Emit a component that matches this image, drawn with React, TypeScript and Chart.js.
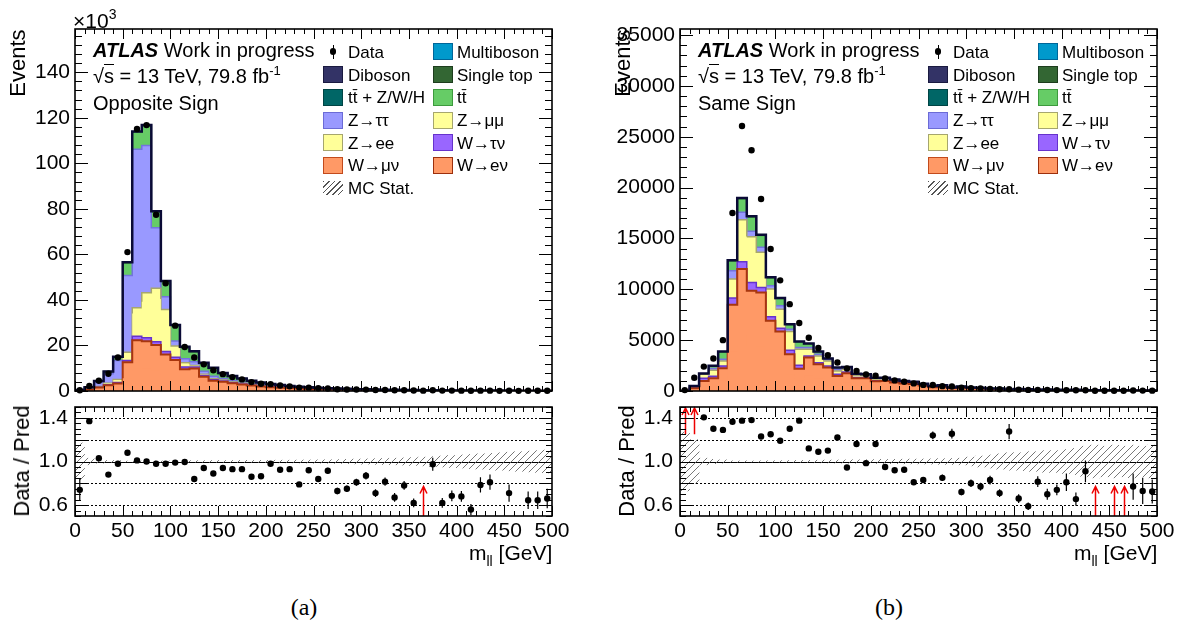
import React, { useEffect, useRef } from 'react';
import { Chart, registerables } from 'chart.js';

Chart.register(...registerables);

const FONT = '"Liberation Sans", Arial, Helvetica, sans-serif';
const SERIF = '"Liberation Serif", "Times New Roman", serif';
Chart.defaults.font.family = FONT;
Chart.defaults.color = '#000';

// ---------- binning / axes ----------
const BIN_LOW = [0,10,20,30,40,50,60,70,80,90,100,110,120,130,140,150,160,170,180,190,200,210,220,230,240,250,260,270,280,290,300,310,320,330,340,350,360,370,380,390,400,410,420,430,440,450,460,470,480,490];
const BIN_CENTER = [5,15,25,35,45,55,65,75,85,95,105,115,125,135,145,155,165,175,185,195,205,215,225,235,245,255,265,275,285,295,305,315,325,335,345,355,365,375,385,395,405,415,425,435,445,455,465,475,485,495];
const X_MIN = 0;
const X_MAX = 500;
const X_TICKS = [0,50,100,150,200,250,300,350,400,450,500];
const OS_Y_TICKS = [0,20,40,60,80,100,120,140];
const SS_Y_TICKS = [0,5000,10000,15000,20000,25000,30000,35000];
const RATIO_TICKS = [0.6,0.8,1.0,1.2,1.4];
const OS_Y_MAX = 159;
const SS_Y_MAX = 35600;

// ---------- Opposite Sign (x10^3 events) ----------
const OS_WENU = [0.07,0.27,0.68,1.1,1.5,5.6,10.0,9.8,9.1,7.2,6.1,4.3,4.5,2.8,2.0,1.85,1.5,1.3,1.08,0.9,0.77,0.65,0.56,0.49,0.41,0.36,0.31,0.27,0.24,0.21,0.18,0.16,0.14,0.13,0.12,0.1,0.095,0.085,0.077,0.072,0.068,0.063,0.056,0.052,0.047,0.045,0.043,0.04,0.038,0.036];
const OS_WMUNU = [0.08,0.33,0.82,1.4,1.8,7.0,12.3,12.0,11.1,8.8,7.5,5.3,5.4,3.5,2.5,2.25,1.9,1.6,1.32,1.1,0.93,0.8,0.69,0.59,0.51,0.44,0.38,0.33,0.29,0.25,0.23,0.2,0.18,0.16,0.14,0.13,0.115,0.105,0.093,0.088,0.082,0.077,0.069,0.063,0.058,0.055,0.052,0.05,0.047,0.044];
const OS_WTAUNU = [0.02,0.05,0.15,0.3,0.4,0.8,1.7,1.6,1.4,1.4,1.2,0.9,0.6,0.5,0.4,0.3,0.25,0.2,0.17,0.14,0.12,0.1,0.08,0.07,0.06,0.04,0.035,0.03,0.027,0.024,0.021,0.019,0.016,0.014,0.012,0.011,0.01,0.009,0.008,0.007,0.007,0.006,0.006,0.005,0.005,0.004,0.004,0.004,0.003,0.003];
const OS_ZEE = [0.02,0.08,0.24,0.48,1.0,2.9,10.0,15.8,18.8,14.7,4.0,1.5,0.55,0.48,0.4,0.32,0.28,0.24,0.2,0.16,0.13,0.11,0.1,0.08,0.065,0.05,0.04,0.036,0.032,0.028,0.024,0.022,0.019,0.016,0.014,0.013,0.011,0.01,0.009,0.008,0.007,0.006,0.006,0.005,0.005,0.005,0.004,0.004,0.003,0.003];
const OS_ZMUMU = [0.01,0.02,0.06,0.12,0.3,0.7,2.6,4.0,4.7,3.7,1.0,0.4,0.15,0.12,0.1,0.08,0.07,0.06,0.05,0.04,0.04,0.03,0.02,0.02,0.015,0.01,0.01,0.009,0.008,0.007,0.006,0.005,0.005,0.004,0.004,0.003,0.003,0.002,0.002,0.002,0.002,0.002,0.001,0.002,0.001,0.001,0.001,0.001,0.001,0.001];
const OS_ZTAUTAU = [0.1,0.6,1.8,4.2,8.4,33.7,69.6,64.6,26.6,5.6,2.2,1.8,1.7,1.3,1.1,0.7,0.55,0.45,0.35,0.28,0.22,0.18,0.15,0.12,0.1,0.08,0.07,0.06,0.05,0.045,0.04,0.035,0.03,0.025,0.022,0.02,0.018,0.015,0.014,0.012,0.011,0.01,0.01,0.009,0.008,0.007,0.007,0.006,0.006,0.005];
const OS_TTBAR = [0.05,0.2,0.55,0.85,1.4,5.5,7.4,8.6,6.9,6.5,6.6,4.8,4.2,3.3,3.3,2.1,1.75,1.4,1.1,0.88,0.72,0.58,0.47,0.41,0.34,0.34,0.29,0.25,0.22,0.19,0.16,0.14,0.13,0.11,0.1,0.09,0.08,0.07,0.06,0.055,0.05,0.045,0.04,0.04,0.035,0.035,0.03,0.03,0.025,0.02];
const OS_TTV = [0.005,0.01,0.02,0.03,0.04,0.06,0.08,0.08,0.08,0.08,0.08,0.07,0.07,0.06,0.06,0.05,0.05,0.045,0.04,0.035,0.03,0.028,0.025,0.022,0.02,0.018,0.016,0.014,0.013,0.012,0.011,0.01,0.009,0.008,0.008,0.007,0.006,0.006,0.005,0.005,0.005,0.004,0.004,0.004,0.003,0.003,0.003,0.003,0.002,0.002];
const OS_STOP = [0.02,0.02,0.04,0.06,0.08,0.12,0.15,0.16,0.16,0.16,0.16,0.15,0.14,0.13,0.13,0.11,0.1,0.09,0.08,0.07,0.06,0.055,0.05,0.045,0.04,0.036,0.032,0.028,0.025,0.022,0.02,0.018,0.016,0.014,0.013,0.012,0.011,0.01,0.009,0.008,0.008,0.007,0.006,0.006,0.005,0.005,0.005,0.004,0.004,0.004];
const OS_DIBOSON = [0.02,0.02,0.04,0.06,0.08,0.12,0.17,0.16,0.16,0.16,0.16,0.18,0.19,0.21,0.21,0.14,0.15,0.12,0.11,0.1,0.08,0.07,0.055,0.055,0.04,0.04,0.035,0.03,0.028,0.025,0.022,0.02,0.018,0.016,0.015,0.014,0.012,0.011,0.01,0.01,0.009,0.008,0.008,0.007,0.007,0.006,0.006,0.006,0.005,0.005];
const OS_MULTIBOSON = [0,0,0.001,0.001,0.002,0.003,0.004,0.004,0.004,0.004,0.003,0.003,0.003,0.003,0.002,0.002,0.002,0.002,0.002,0.002,0.001,0.001,0.001,0.001,0.001,0.001,0.001,0.001,0.001,0.001,0.001,0.001,0.001,0.001,0.001,0.001,0.001,0.001,0.001,0.001,0,0,0,0,0,0,0,0,0,0];
const OS_DATA = [0.3,2.2,4.5,7.6,14.7,61.0,115.1,116.8,77.4,47.3,28.7,19.3,14.7,11.7,9.1,7.4,6.1,5.1,3.9,3.2,3.0,2.4,2.05,1.5,1.47,1.18,1.1,0.77,0.69,0.65,0.61,0.44,0.45,0.33,0.34,0.24,0.15,0.30,0.17,0.18,0.16,0.12,0.16,0.15,0.07,0.11,0.06,0.09,0.085,0.08];
const OS_RATIO = [0.74,1.37,1.03,0.88,0.98,1.08,1.01,1.00,0.98,0.98,0.99,0.995,0.84,0.94,0.89,0.94,0.93,0.93,0.86,0.865,0.98,0.925,0.93,0.79,0.92,0.84,0.915,0.73,0.75,0.81,0.87,0.71,0.815,0.67,0.78,0.62,null,0.975,0.62,0.685,0.68,0.56,0.785,0.81,null,0.71,null,0.645,0.645,0.66];
const OS_RATIO_ERR = [0.1,0.02,0.012,0.01,0.008,0.005,0.004,0.004,0.005,0.006,0.007,0.008,0.009,0.01,0.011,0.012,0.013,0.014,0.016,0.017,0.018,0.02,0.021,0.022,0.024,0.026,0.028,0.03,0.03,0.032,0.034,0.036,0.038,0.04,0.04,0.04,0,0.06,0.045,0.05,0.05,0.05,0.07,0.07,0,0.08,0,0.08,0.08,0.09];
const OS_MC_ERR = [0.17,0.03,0.015,0.01,0.008,0.004,0.003,0.003,0.004,0.005,0.006,0.007,0.008,0.008,0.009,0.009,0.01,0.01,0.01,0.011,0.011,0.012,0.012,0.013,0.014,0.015,0.016,0.018,0.02,0.022,0.024,0.026,0.028,0.03,0.033,0.036,0.04,0.045,0.05,0.055,0.06,0.065,0.07,0.075,0.08,0.085,0.09,0.095,0.1,0.105];
const OS_ARROW_X = [365];
const OS_ARROW_SIDE = ['low'];

// ---------- Same Sign (events) ----------
const SS_WENU = [7,120,450,570,1010,3850,5450,4480,4400,3130,2660,1640,1000,1500,1200,1050,670,800,570,570,440,450,380,340,320,250,165,190,120,155,115,115,85,85,48,68,62,45,48,41,34,37,25,27,24,22,20,19,17,16];
const SS_WMUNU = [8,140,540,680,1220,4630,6550,5380,5290,3770,3190,1980,1200,1790,1430,1250,810,950,680,680,520,530,460,400,380,290,195,230,145,185,140,135,105,105,57,82,73,55,57,49,41,45,31,33,28,26,25,22,20,20];
const SS_WTAUNU = [2,40,260,200,240,660,720,820,500,400,330,390,330,160,160,170,160,110,80,70,60,55,48,40,38,30,20,24,15,18,14,13,10,10,6,8,7,5,5,5,4,4,3,3,3,3,2,2,2,2];
const SS_ZEE = [3,66,234,354,294,1120,2470,2700,2070,1640,1120,1100,950,400,400,295,200,175,120,108,87,84,72,60,54,42,30,33,21,27,21,20,15,15,8,12,11,8,8,7,6,7,5,5,4,4,4,4,3,3];
const SS_ZMUMU = [2,44,156,236,196,750,1640,1800,1380,1090,750,740,630,260,260,195,130,115,80,72,58,56,48,40,36,28,20,22,14,18,14,13,10,10,6,8,7,5,6,5,4,4,3,3,3,3,2,2,2,2];
const SS_ZTAUTAU = [3,30,30,180,160,820,750,530,490,320,330,230,160,160,170,160,170,70,50,45,35,35,30,25,22,18,12,14,9,11,8,8,6,6,4,5,4,3,4,3,3,3,2,2,2,2,2,2,1,1];
const SS_TTBAR = [4,45,35,230,720,930,1300,1370,1150,770,710,450,550,370,240,60,150,110,100,90,80,75,75,70,60,55,35,42,22,30,22,22,16,16,9,14,13,9,10,8,6,8,5,5,5,4,4,3,3,3];
const SS_TTV = [0,2,3,5,8,15,20,20,18,14,12,10,9,8,7,6,5,5,4,4,3,3,3,2,2,2,2,2,1,1,1,1,1,1,1,1,1,1,1,1,1,1,1,1,1,1,1,1,1,1];
const SS_STOP = [1,3,5,8,12,20,25,24,20,16,13,10,9,8,7,6,5,5,4,4,3,3,3,3,2,2,2,2,2,2,1,1,1,1,1,1,1,1,1,1,1,1,1,1,1,1,1,1,1,1];
const SS_DIBOSON = [1,5,10,15,25,50,60,55,48,38,30,25,20,17,15,12,10,9,8,7,6,6,5,5,4,4,3,3,3,3,2,2,2,2,2,2,2,1,1,1,1,1,1,1,1,1,1,1,1,1];
const SS_MULTIBOSON = [0,0,0,0,1,1,1,1,1,1,1,1,0,0,0,0,0,0,0,0,0,0,0,0,0,0,0,0,0,0,0,0,0,0,0,0,0,0,0,0,0,0,0,0,0,0,0,0,0,0];
const SS_DATA = [90,1310,2400,3200,5000,17500,26060,23680,18880,13960,10880,8540,6680,5230,4230,3510,2810,2220,1970,1625,1510,1235,1040,915,745,600,595,476,440,324,272,254,208,178,178,132,106,106,98,89,81,72,68,30,20,25,24,42,37,35];
const SS_RATIO = [null,null,1.405,1.30,1.29,1.365,1.375,1.38,1.23,1.25,1.19,1.30,1.375,1.12,1.09,1.10,1.22,0.945,1.16,0.985,1.16,0.95,0.92,0.925,0.81,0.83,1.24,0.85,1.255,0.72,0.80,0.77,0.83,0.71,1.275,0.66,0.59,0.815,0.70,0.74,0.81,0.655,0.91,null,null,null,null,0.77,0.73,0.725];
const SS_RATIO_ERR = [0,0,0.012,0.012,0.01,0.005,0.004,0.004,0.005,0.006,0.007,0.008,0.01,0.01,0.011,0.012,0.014,0.015,0.016,0.018,0.02,0.021,0.022,0.024,0.025,0.027,0.035,0.03,0.045,0.03,0.035,0.035,0.04,0.035,0.07,0.04,0.035,0.05,0.05,0.05,0.08,0.06,0.1,0,0,0,0,0.12,0.12,0.11];
const SS_MC_ERR = [0.27,0.2,0.03,0.02,0.015,0.006,0.005,0.005,0.006,0.007,0.008,0.009,0.01,0.011,0.012,0.013,0.014,0.015,0.016,0.017,0.018,0.019,0.02,0.021,0.022,0.023,0.024,0.026,0.028,0.03,0.04,0.05,0.06,0.07,0.08,0.08,0.09,0.09,0.1,0.1,0.11,0.12,0.14,0.15,0.14,0.15,0.14,0.15,0.14,0.15];
const SS_ARROW_X = [5,15,435,455,465];
const SS_ARROW_SIDE = ['high','high','low','low','low'];

const ARROW_LOW_RANGE = [0.5, 0.78];
const ARROW_HIGH_RANGE = [1.25, 1.5];

const OS_STACK = [OS_WENU, OS_WMUNU, OS_WTAUNU, OS_ZEE, OS_ZMUMU, OS_ZTAUTAU, OS_TTBAR, OS_TTV, OS_STOP, OS_DIBOSON, OS_MULTIBOSON];
const SS_STACK = [SS_WENU, SS_WMUNU, SS_WTAUNU, SS_ZEE, SS_ZMUMU, SS_ZTAUTAU, SS_TTBAR, SS_TTV, SS_STOP, SS_DIBOSON, SS_MULTIBOSON];

// styles (bottom of stack first)
const STACK_FILL = ['#ff9966','#ff9966','#9966ff','#ffff99','#ffff99','#9999ff','#66cc66','#006666','#336633','#333366','#0099cc'];
const STACK_LINE = ['#ff9966','#a8360e','#6633cc','#ffff99','#a6a66e','#7373dd','#45a345','#004444','#1e3d1e','#1a1a40','#006699'];
const STACK_WIDTH = [0,2,1.5,0,1.5,1.5,1.5,1,1,1,1];

const stepPoints = (vals: number[]) =>
  BIN_LOW.map((x, i) => ({ x, y: vals[i] })).concat([{ x: X_MAX, y: vals[vals.length - 1] }]);

type FrameOpts = {
  xMajor: number; xMinor: number; xMajLen: number; xMinLen: number;
  yMajor: number; yMinor: number; yMajLen: number; yMinLen: number;
};

function framePlugin(o: FrameOpts) {
  return {
    id: 'atlasFrame',
    afterDraw(chart: any) {
      const { ctx, chartArea: a } = chart;
      const xs = chart.scales.x;
      const ys = chart.scales.y;
      ctx.save();
      ctx.strokeStyle = '#000';
      ctx.lineWidth = 1;
      ctx.beginPath();
      const xr = Math.round(o.xMajor / o.xMinor);
      for (let k = Math.ceil(xs.min / o.xMinor - 1e-9); k <= Math.floor(xs.max / o.xMinor + 1e-9); k++) {
        const px = Math.round(xs.getPixelForValue(k * o.xMinor)) + 0.5;
        const L = k % xr === 0 ? o.xMajLen : o.xMinLen;
        ctx.moveTo(px, a.bottom); ctx.lineTo(px, a.bottom - L);
        ctx.moveTo(px, a.top); ctx.lineTo(px, a.top + L);
      }
      const yr = Math.round(o.yMajor / o.yMinor);
      for (let k = Math.ceil(ys.min / o.yMinor - 1e-9); k <= Math.floor(ys.max / o.yMinor + 1e-9); k++) {
        const py = Math.round(ys.getPixelForValue(k * o.yMinor)) + 0.5;
        const L = k % yr === 0 ? o.yMajLen : o.yMinLen;
        ctx.moveTo(a.left, py); ctx.lineTo(a.left + L, py);
        ctx.moveTo(a.right, py); ctx.lineTo(a.right - L, py);
      }
      ctx.stroke();
      ctx.lineWidth = 1.6;
      ctx.strokeRect(a.left, a.top, a.right - a.left, a.bottom - a.top);
      ctx.restore();
    },
  };
}

function makeMain(stack: number[][], data: number[], yMax: number, yTicks: number[], yMajor: number, yMinor: number, padRight: number) {
  const cum: number[][] = [];
  let run = BIN_LOW.map(() => 0);
  stack.forEach((v) => {
    run = run.map((r, i) => r + v[i]);
    cum.push(run);
  });
  const datasets: any[] = [
    {
      type: 'line',
      data: BIN_CENTER.map((x, i) => ({ x, y: data[i] })),
      showLine: false, pointRadius: 3.2, pointHoverRadius: 3.2,
      pointBackgroundColor: '#000', pointBorderColor: '#000', pointBorderWidth: 0,
      clip: false, order: 0,
    },
    {
      type: 'line',
      data: stepPoints(cum[cum.length - 1]),
      borderColor: '#0a0a35', borderWidth: 2.5, stepped: 'before', pointRadius: 0, fill: false, order: 1,
    },
  ];
  cum.forEach((c, j) => {
    datasets.push({
      type: 'line',
      data: stepPoints(c),
      stepped: 'before', pointRadius: 0, fill: 'origin',
      backgroundColor: STACK_FILL[j], borderColor: STACK_LINE[j], borderWidth: STACK_WIDTH[j],
      order: 10 + j,
    });
  });
  return {
    type: 'line',
    data: { datasets },
    options: {
      responsive: false, animation: false, events: [],
      layout: { padding: { left: 0, right: padRight, top: 29, bottom: 19 } },
      plugins: { legend: { display: false }, tooltip: { enabled: false } },
      scales: {
        x: { type: 'linear', min: X_MIN, max: X_MAX, display: false, offset: false },
        y: {
          type: 'linear', min: 0, max: yMax,
          grid: { display: false, drawTicks: false }, border: { display: false },
          afterBuildTicks: (s: any) => { s.ticks = yTicks.map((v) => ({ value: v })); },
          afterFit: (s: any) => { s.width = 75; },
          ticks: { font: { family: FONT, size: 21 }, color: '#000', padding: 5, callback: (v: any) => String(v) },
        },
      },
    },
    plugins: [framePlugin({ xMajor: 50, xMinor: 10, xMajLen: 10, xMinLen: 5, yMajor, yMinor, yMajLen: 13, yMinLen: 7 })],
  };
}

function makeRatio(cv: HTMLCanvasElement, ratio: (number | null)[], errs: number[], mcErr: number[], arrowX: number[], arrowSide: string[], padRight: number) {
  const tile = document.createElement('canvas');
  tile.width = 7; tile.height = 7;
  const tg = tile.getContext('2d')!;
  tg.strokeStyle = '#6a6a6a';
  tg.lineWidth = 0.9;
  tg.beginPath();
  tg.moveTo(0, 7); tg.lineTo(7, 0);
  tg.moveTo(-1, 1); tg.lineTo(1, -1);
  tg.moveTo(6, 8); tg.lineTo(8, 6);
  tg.stroke();
  const hatch = cv.getContext('2d')!.createPattern(tile, 'repeat');

  const datasets: any[] = [
    {
      type: 'line',
      data: BIN_CENTER.map((x, i) => ({ x, y: ratio[i] })),
      showLine: false, pointRadius: 3.2, pointHoverRadius: 3.2,
      pointBackgroundColor: '#000', pointBorderColor: '#000', pointBorderWidth: 0,
      clip: false, order: 0,
    },
    {
      type: 'bar',
      data: BIN_CENTER.map((x, i) => ({ x, y: [1 - mcErr[i], 1 + mcErr[i]] })),
      backgroundColor: hatch, borderWidth: 0, grouped: false, barPercentage: 1, categoryPercentage: 1, order: 5,
    },
  ];

  const gridPlugin = {
    id: 'ratioGrid',
    beforeDatasetsDraw(chart: any) {
      const { ctx, chartArea: a } = chart;
      const ys = chart.scales.y;
      ctx.save();
      ctx.strokeStyle = '#000';
      ctx.lineWidth = 1;
      RATIO_TICKS.forEach((v) => {
        const py = Math.round(ys.getPixelForValue(v)) + 0.5;
        ctx.setLineDash(Math.abs(v - 1) < 1e-9 ? [] : [2, 2]);
        ctx.beginPath(); ctx.moveTo(a.left, py); ctx.lineTo(a.right, py); ctx.stroke();
      });
      ctx.restore();
    },
  };
  const errPlugin = {
    id: 'ratioErr',
    afterDatasetsDraw(chart: any) {
      const { ctx } = chart;
      const xs = chart.scales.x; const ys = chart.scales.y;
      ctx.save();
      ctx.strokeStyle = '#000'; ctx.lineWidth = 1.2;
      ctx.beginPath();
      ratio.forEach((r, i) => {
        if (r == null || !errs[i]) return;
        const px = xs.getPixelForValue(BIN_CENTER[i]);
        ctx.moveTo(px, ys.getPixelForValue(r - errs[i]));
        ctx.lineTo(px, ys.getPixelForValue(r + errs[i]));
      });
      ctx.stroke();
      ctx.restore();
    },
  };
  const arrowPlugin = {
    id: 'ratioArrows',
    afterDatasetsDraw(chart: any) {
      const { ctx } = chart;
      const xs = chart.scales.x; const ys = chart.scales.y;
      ctx.save();
      ctx.strokeStyle = '#ee0000'; ctx.lineWidth = 1.5;
      arrowX.forEach((x, i) => {
        const rng = arrowSide[i] === 'low' ? ARROW_LOW_RANGE : ARROW_HIGH_RANGE;
        const px = Math.round(xs.getPixelForValue(x)) + 0.5;
        const y0 = ys.getPixelForValue(rng[0]);
        const y1 = ys.getPixelForValue(rng[1]) + 1;
        ctx.beginPath();
        ctx.moveTo(px, y0); ctx.lineTo(px, y1);
        ctx.moveTo(px - 3.5, y1 + 7); ctx.lineTo(px, y1); ctx.lineTo(px + 3.5, y1 + 7);
        ctx.stroke();
      });
      ctx.restore();
    },
  };

  return {
    type: 'line',
    data: { datasets },
    options: {
      responsive: false, animation: false, events: [],
      layout: { padding: { left: 0, right: padRight, top: 22, bottom: 4 } },
      plugins: { legend: { display: false }, tooltip: { enabled: false } },
      scales: {
        x: {
          type: 'linear', min: X_MIN, max: X_MAX, offset: false,
          grid: { display: false, drawTicks: false }, border: { display: false },
          afterBuildTicks: (s: any) => { s.ticks = X_TICKS.map((v) => ({ value: v })); },
          afterFit: (s: any) => { s.height = 30; },
          ticks: { font: { family: FONT, size: 21 }, color: '#000', padding: 3, maxRotation: 0, autoSkip: false, callback: (v: any) => String(v) },
        },
        y: {
          type: 'linear', min: 0.5, max: 1.5,
          grid: { display: false, drawTicks: false }, border: { display: false },
          afterBuildTicks: (s: any) => { s.ticks = RATIO_TICKS.map((v) => ({ value: v })); },
          afterFit: (s: any) => { s.width = 75; },
          ticks: { font: { family: FONT, size: 21 }, color: '#000', padding: 7, callback: (v: any) => Number(v).toFixed(1) },
        },
      },
    },
    plugins: [gridPlugin, errPlugin, arrowPlugin, framePlugin({ xMajor: 50, xMinor: 10, xMajLen: 10, xMinLen: 5, yMajor: 0.2, yMinor: 0.05, yMajLen: 12, yMinLen: 6 })],
  };
}

function ChartBox({ left, top, width, height, build }: { left: number; top: number; width: number; height: number; build: (cv: HTMLCanvasElement) => any }) {
  const ref = useRef<HTMLCanvasElement>(null);
  useEffect(() => {
    const cv = ref.current!;
    const chart = new Chart(cv, build(cv));
    return () => chart.destroy();
  }, []);
  return <canvas ref={ref} width={width} height={height} style={{ position: 'absolute', left, top, width, height }} />;
}

const LEGEND_COL1 = [
  { label: 'Data', kind: 'data', fill: '', line: '' },
  { label: 'Diboson', kind: 'box', fill: '#333366', line: '#1a1a40' },
  { label: 'tt\u0304 + Z/W/H', kind: 'box', fill: '#006666', line: '#004444' },
  { label: 'Z\u2192\u03c4\u03c4', kind: 'box', fill: '#9999ff', line: '#6b6bd6' },
  { label: 'Z\u2192ee', kind: 'box', fill: '#ffff99', line: '#a6a66e' },
  { label: 'W\u2192\u03bc\u03bd', kind: 'box', fill: '#ff9966', line: '#c24a1c' },
  { label: 'MC Stat.', kind: 'hatch', fill: '', line: '' },
];
const LEGEND_COL2 = [
  { label: 'Multiboson', kind: 'box', fill: '#0099cc', line: '#006699' },
  { label: 'Single top', kind: 'box', fill: '#336633', line: '#1e3d1e' },
  { label: 'tt\u0304', kind: 'box', fill: '#66cc66', line: '#3d9a3d' },
  { label: 'Z\u2192\u03bc\u03bc', kind: 'box', fill: '#ffff99', line: '#a6a66e' },
  { label: 'W\u2192\u03c4\u03bd', kind: 'box', fill: '#9966ff', line: '#6633cc' },
  { label: 'W\u2192e\u03bd', kind: 'box', fill: '#ff9966', line: '#9c2f0c' },
];
const LEGEND_ROW_Y = [51.5, 74.5, 97, 120, 142.5, 165, 188];

function Overlay({ dx, sign, showExp, caption, capX }: { dx: number; sign: string; showExp: boolean; caption: string; capX: number }) {
  const base: React.CSSProperties = { position: 'absolute', whiteSpace: 'nowrap', lineHeight: 1, color: '#000', fontFamily: FONT };
  const mid: React.CSSProperties = { ...base, transform: 'translateY(-50%)' };
  const rot: React.CSSProperties = { ...base, transform: 'translate(-50%, -50%) rotate(-90deg)' };

  const marker = (item: any, x: number, y: number, key: string) => {
    if (item.kind === 'data') {
      return (
        <React.Fragment key={key}>
          <div style={{ position: 'absolute', left: x + 9.5, top: y - 7, width: 1, height: 14, background: '#000' }} />
          <div style={{ position: 'absolute', left: x + 6.8, top: y - 3.2, width: 6.4, height: 6.4, borderRadius: '50%', background: '#000' }} />
        </React.Fragment>
      );
    }
    if (item.kind === 'hatch') {
      return <div key={key} style={{ position: 'absolute', left: x, top: y - 7, width: 20, height: 14, background: 'repeating-linear-gradient(135deg, #555 0px, #555 1px, transparent 1px, transparent 4px)' }} />;
    }
    return <div key={key} style={{ position: 'absolute', left: x, top: y - 8.5, width: 20, height: 17, background: item.fill, border: `1.6px solid ${item.line}`, boxSizing: 'border-box' }} />;
  };

  return (
    <>
      {showExp && (
        <div style={{ ...base, left: 73, top: 10, fontSize: 21 }}>
          {'\u00d710'}<span style={{ fontSize: 14, position: 'relative', top: -9 }}>3</span>
        </div>
      )}
      <div style={{ ...rot, left: dx + 18, top: 63, fontSize: 22 }}>Events</div>
      <div style={{ ...rot, left: dx + 22, top: 461, fontSize: 22 }}>Data / Pred</div>
      <div style={{ ...mid, left: dx + 469, top: 552, fontSize: 21 }}>
        m<span style={{ fontSize: 14, position: 'relative', top: 6 }}>ll</span> [GeV]
      </div>

      <div style={{ ...mid, left: dx + 93, top: 50, fontSize: 20 }}>
        <span style={{ fontWeight: 'bold', fontStyle: 'italic' }}>ATLAS</span> Work in progress
      </div>
      <div style={{ ...mid, left: dx + 93, top: 76, fontSize: 20 }}>
        {'\u221a'}<span style={{ borderTop: '1.2px solid #000' }}>s</span> = 13 TeV, 79.8 fb<span style={{ fontSize: 13, position: 'relative', top: -8 }}>-1</span>
      </div>
      <div style={{ ...mid, left: dx + 93, top: 103, fontSize: 20 }}>{sign}</div>

      {LEGEND_COL1.map((it, i) => (
        <React.Fragment key={'c1' + i}>
          {marker(it, dx + 323, LEGEND_ROW_Y[i], 'm1' + i)}
          <div style={{ ...mid, left: dx + 348, top: LEGEND_ROW_Y[i], fontSize: 17 }}>{it.label}</div>
        </React.Fragment>
      ))}
      {LEGEND_COL2.map((it, i) => (
        <React.Fragment key={'c2' + i}>
          {marker(it, dx + 433, LEGEND_ROW_Y[i], 'm2' + i)}
          <div style={{ ...mid, left: dx + 457, top: LEGEND_ROW_Y[i], fontSize: 17 }}>{it.label}</div>
        </React.Fragment>
      ))}

      <div style={{ ...base, left: capX, top: 607, fontSize: 24, fontFamily: SERIF, transform: 'translate(-50%, -50%)' }}>{caption}</div>
    </>
  );
}

export default function App() {
  return (
    <div style={{ position: 'absolute', left: 0, top: 0, width: 1186, height: 628, background: '#fff', overflow: 'hidden', fontFamily: FONT }}>
      <ChartBox left={0} top={0} width={605} height={410} build={() => makeMain(OS_STACK, OS_DATA, OS_Y_MAX, OS_Y_TICKS, 20, 4, 53)} />
      <ChartBox left={0} top={385} width={605} height={165} build={(cv) => makeRatio(cv, OS_RATIO, OS_RATIO_ERR, OS_MC_ERR, OS_ARROW_X, OS_ARROW_SIDE, 53)} />
      <ChartBox left={605} top={0} width={581} height={410} build={() => makeMain(SS_STACK, SS_DATA, SS_Y_MAX, SS_Y_TICKS, 5000, 1000, 29)} />
      <ChartBox left={605} top={385} width={581} height={165} build={(cv) => makeRatio(cv, SS_RATIO, SS_RATIO_ERR, SS_MC_ERR, SS_ARROW_X, SS_ARROW_SIDE, 29)} />
      <Overlay dx={0} sign="Opposite Sign" showExp={true} caption="(a)" capX={304} />
      <Overlay dx={605} sign="Same Sign" showExp={false} caption="(b)" capX={889} />
    </div>
  );
}
